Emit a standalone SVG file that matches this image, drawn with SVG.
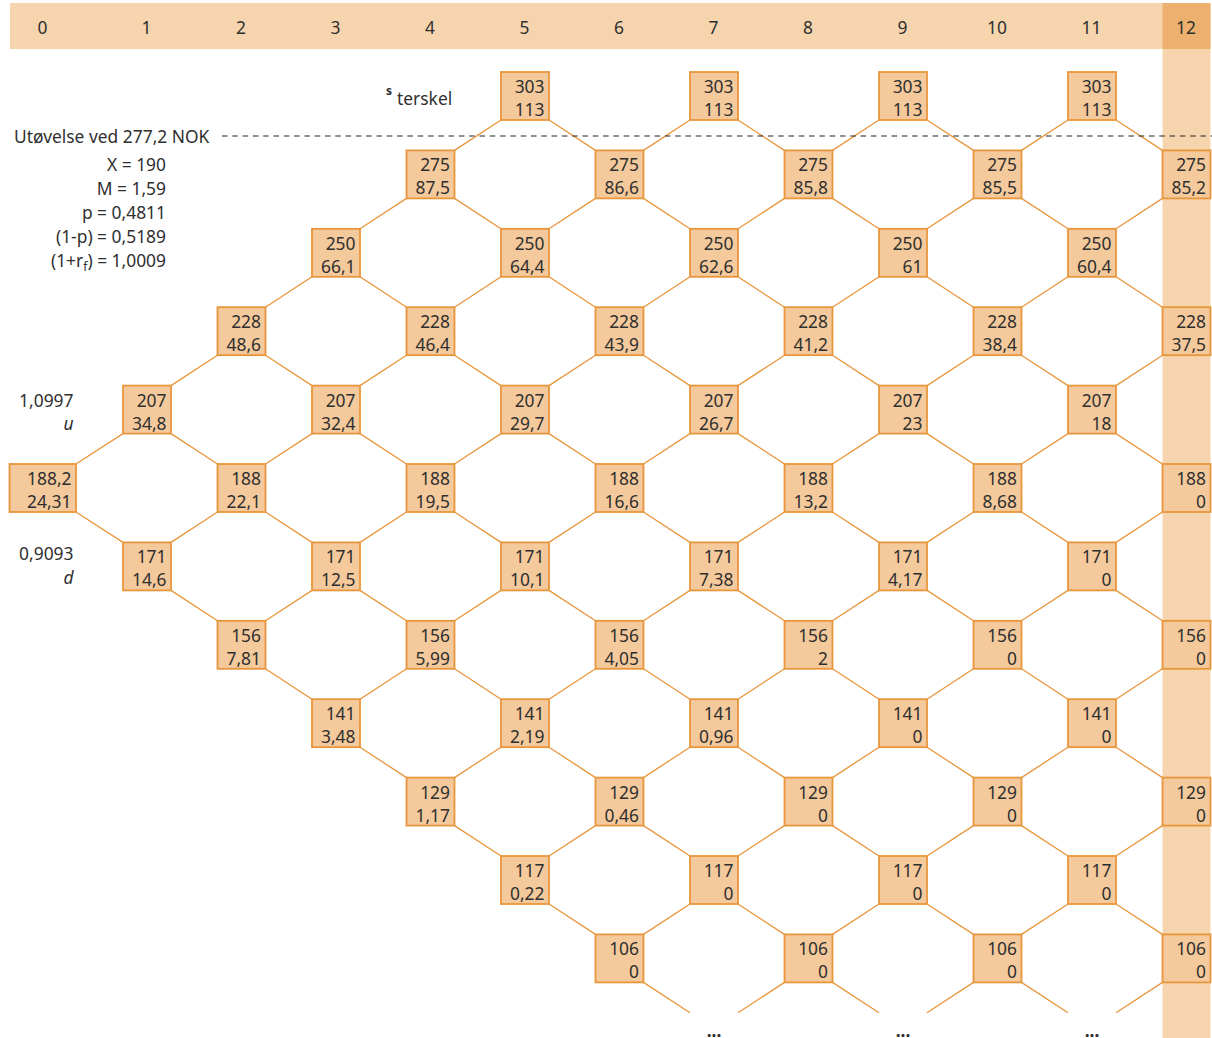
<svg xmlns="http://www.w3.org/2000/svg" width="1212" height="1038" viewBox="0 0 1212 1038">
<style>
text{font-family:"Noto Sans","Open Sans","DejaVu Sans",sans-serif;font-size:17.4px;fill:#2f2f2f}
.b{fill:#f4c99b;stroke:#e8963c;stroke-width:1.8}
.v{text-anchor:end}
.h{text-anchor:middle}
.e{text-anchor:end}
.c{fill:none;stroke:#e8963c;stroke-width:1.3}
.i{font-style:italic}
</style>
<rect x="1162.5" y="49" width="48" height="989" fill="#f6d5ae"/>
<g id="header">
<rect x="10" y="3" width="1200.5" height="46" fill="#f6d5ae"/>
<rect x="1162.5" y="3" width="48" height="46" fill="#eeb06e"/>
<text class="h" x="42.5" y="34">0</text>
<text class="h" x="146.5" y="34">1</text>
<text class="h" x="241" y="34">2</text>
<text class="h" x="335.5" y="34">3</text>
<text class="h" x="430" y="34">4</text>
<text class="h" x="524.5" y="34">5</text>
<text class="h" x="619" y="34">6</text>
<text class="h" x="713.5" y="34">7</text>
<text class="h" x="808" y="34">8</text>
<text class="h" x="902.5" y="34">9</text>
<text class="h" x="997" y="34">10</text>
<text class="h" x="1091.5" y="34">11</text>
<text class="h" x="1186" y="34">12</text>
</g>
<g id="connectors" class="c">
<path d="M76 464l47 -30.4M76 512l47 30.4"/>
<path d="M171 385.6l46.5 -30.4M171 433.6l46.5 30.4M171 542.4l46.5 -30.4M171 590.4l46.5 30.4"/>
<path d="M265.5 307.2l46.5 -30.4M265.5 355.2l46.5 30.4M265.5 464l46.5 -30.4M265.5 512l46.5 30.4M265.5 620.8l46.5 -30.4M265.5 668.8l46.5 30.4"/>
<path d="M360 228.8l46.5 -30.4M360 276.8l46.5 30.4M360 385.6l46.5 -30.4M360 433.6l46.5 30.4M360 542.4l46.5 -30.4M360 590.4l46.5 30.4M360 699.2l46.5 -30.4M360 747.2l46.5 30.4"/>
<path d="M454.5 150.4l46.5 -30.4M454.5 198.4l46.5 30.4M454.5 307.2l46.5 -30.4M454.5 355.2l46.5 30.4M454.5 464l46.5 -30.4M454.5 512l46.5 30.4M454.5 620.8l46.5 -30.4M454.5 668.8l46.5 30.4M454.5 777.6l46.5 -30.4M454.5 825.6l46.5 30.4"/>
<path d="M549 120l46.5 30.4M549 228.8l46.5 -30.4M549 276.8l46.5 30.4M549 385.6l46.5 -30.4M549 433.6l46.5 30.4M549 542.4l46.5 -30.4M549 590.4l46.5 30.4M549 699.2l46.5 -30.4M549 747.2l46.5 30.4M549 856l46.5 -30.4M549 904l46.5 30.4"/>
<path d="M643.5 150.4l46.5 -30.4M643.5 198.4l46.5 30.4M643.5 307.2l46.5 -30.4M643.5 355.2l46.5 30.4M643.5 464l46.5 -30.4M643.5 512l46.5 30.4M643.5 620.8l46.5 -30.4M643.5 668.8l46.5 30.4M643.5 777.6l46.5 -30.4M643.5 825.6l46.5 30.4M643.5 934.4l46.5 -30.4M643.5 982.4l46.5 30.4"/>
<path d="M738 120l46.5 30.4M738 228.8l46.5 -30.4M738 276.8l46.5 30.4M738 385.6l46.5 -30.4M738 433.6l46.5 30.4M738 542.4l46.5 -30.4M738 590.4l46.5 30.4M738 699.2l46.5 -30.4M738 747.2l46.5 30.4M738 856l46.5 -30.4M738 904l46.5 30.4"/>
<path d="M832.5 150.4l46.5 -30.4M832.5 198.4l46.5 30.4M832.5 307.2l46.5 -30.4M832.5 355.2l46.5 30.4M832.5 464l46.5 -30.4M832.5 512l46.5 30.4M832.5 620.8l46.5 -30.4M832.5 668.8l46.5 30.4M832.5 777.6l46.5 -30.4M832.5 825.6l46.5 30.4M832.5 934.4l46.5 -30.4M832.5 982.4l46.5 30.4M784.5 982.4l-46.5 30.4"/>
<path d="M927 120l46.5 30.4M927 228.8l46.5 -30.4M927 276.8l46.5 30.4M927 385.6l46.5 -30.4M927 433.6l46.5 30.4M927 542.4l46.5 -30.4M927 590.4l46.5 30.4M927 699.2l46.5 -30.4M927 747.2l46.5 30.4M927 856l46.5 -30.4M927 904l46.5 30.4"/>
<path d="M1021.5 150.4l46.5 -30.4M1021.5 198.4l46.5 30.4M1021.5 307.2l46.5 -30.4M1021.5 355.2l46.5 30.4M1021.5 464l46.5 -30.4M1021.5 512l46.5 30.4M1021.5 620.8l46.5 -30.4M1021.5 668.8l46.5 30.4M1021.5 777.6l46.5 -30.4M1021.5 825.6l46.5 30.4M1021.5 934.4l46.5 -30.4M1021.5 982.4l46.5 30.4M973.5 982.4l-46.5 30.4"/>
<path d="M1116 120l46.5 30.4M1116 228.8l46.5 -30.4M1116 276.8l46.5 30.4M1116 385.6l46.5 -30.4M1116 433.6l46.5 30.4M1116 542.4l46.5 -30.4M1116 590.4l46.5 30.4M1116 699.2l46.5 -30.4M1116 747.2l46.5 30.4M1116 856l46.5 -30.4M1116 904l46.5 30.4M1162.5 982.4l-46.5 30.4"/>
</g>
<line id="threshold" x1="222" y1="136" x2="1212" y2="136" stroke="#222" stroke-width="1.2" stroke-dasharray="5.5 4.8"/>
<g id="labels">
<text x="386" y="95" style="font-size:12px;font-weight:bold">s</text>
<text x="397" y="104.5">terskel</text>
<text x="14" y="142.5">Utøvelse ved 277,2 NOK</text>
<text class="e" x="166" y="170.5">X = 190</text>
<text class="e" x="166" y="194.5">M = 1,59</text>
<text class="e" x="166" y="218.5">p = 0,4811</text>
<text class="e" x="166" y="242.5">(1-p) = 0,5189</text>
<text class="e" x="166" y="266.5">(1+r<tspan dy="4" style="font-size:12px">f</tspan><tspan dy="-4">) = 1,0009</tspan></text>
<text class="e" x="73.5" y="406.5">1,0997</text>
<text class="e i" x="73.5" y="430">u</text>
<text class="e" x="73.5" y="560">0,9093</text>
<text class="e i" x="73.5" y="583.5">d</text>
<text class="h" x="714" y="1037" style="font-weight:bold">...</text>
<text class="h" x="903" y="1037" style="font-weight:bold">...</text>
<text class="h" x="1092" y="1037" style="font-weight:bold">...</text>
</g>
<g id="n0_5" transform="translate(9.5,464)"><rect class="b" width="66.5" height="48"/><text class="v" x="62" y="21">188,2</text><text class="v" x="62" y="44">24,31</text></g>
<g id="n1_4" transform="translate(123,385.6)"><rect class="b" width="48" height="48"/><text class="v" x="43.5" y="21">207</text><text class="v" x="43.5" y="44">34,8</text></g>
<g id="n1_6" transform="translate(123,542.4)"><rect class="b" width="48" height="48"/><text class="v" x="43.5" y="21">171</text><text class="v" x="43.5" y="44">14,6</text></g>
<g id="n2_3" transform="translate(217.5,307.2)"><rect class="b" width="48" height="48"/><text class="v" x="43.5" y="21">228</text><text class="v" x="43.5" y="44">48,6</text></g>
<g id="n2_5" transform="translate(217.5,464)"><rect class="b" width="48" height="48"/><text class="v" x="43.5" y="21">188</text><text class="v" x="43.5" y="44">22,1</text></g>
<g id="n2_7" transform="translate(217.5,620.8)"><rect class="b" width="48" height="48"/><text class="v" x="43.5" y="21">156</text><text class="v" x="43.5" y="44">7,81</text></g>
<g id="n3_2" transform="translate(312,228.8)"><rect class="b" width="48" height="48"/><text class="v" x="43.5" y="21">250</text><text class="v" x="43.5" y="44">66,1</text></g>
<g id="n3_4" transform="translate(312,385.6)"><rect class="b" width="48" height="48"/><text class="v" x="43.5" y="21">207</text><text class="v" x="43.5" y="44">32,4</text></g>
<g id="n3_6" transform="translate(312,542.4)"><rect class="b" width="48" height="48"/><text class="v" x="43.5" y="21">171</text><text class="v" x="43.5" y="44">12,5</text></g>
<g id="n3_8" transform="translate(312,699.2)"><rect class="b" width="48" height="48"/><text class="v" x="43.5" y="21">141</text><text class="v" x="43.5" y="44">3,48</text></g>
<g id="n4_1" transform="translate(406.5,150.4)"><rect class="b" width="48" height="48"/><text class="v" x="43.5" y="21">275</text><text class="v" x="43.5" y="44">87,5</text></g>
<g id="n4_3" transform="translate(406.5,307.2)"><rect class="b" width="48" height="48"/><text class="v" x="43.5" y="21">228</text><text class="v" x="43.5" y="44">46,4</text></g>
<g id="n4_5" transform="translate(406.5,464)"><rect class="b" width="48" height="48"/><text class="v" x="43.5" y="21">188</text><text class="v" x="43.5" y="44">19,5</text></g>
<g id="n4_7" transform="translate(406.5,620.8)"><rect class="b" width="48" height="48"/><text class="v" x="43.5" y="21">156</text><text class="v" x="43.5" y="44">5,99</text></g>
<g id="n4_9" transform="translate(406.5,777.6)"><rect class="b" width="48" height="48"/><text class="v" x="43.5" y="21">129</text><text class="v" x="43.5" y="44">1,17</text></g>
<g id="n5_0" transform="translate(501,72)"><rect class="b" width="48" height="48"/><text class="v" x="43.5" y="21">303</text><text class="v" x="43.5" y="44">113</text></g>
<g id="n5_2" transform="translate(501,228.8)"><rect class="b" width="48" height="48"/><text class="v" x="43.5" y="21">250</text><text class="v" x="43.5" y="44">64,4</text></g>
<g id="n5_4" transform="translate(501,385.6)"><rect class="b" width="48" height="48"/><text class="v" x="43.5" y="21">207</text><text class="v" x="43.5" y="44">29,7</text></g>
<g id="n5_6" transform="translate(501,542.4)"><rect class="b" width="48" height="48"/><text class="v" x="43.5" y="21">171</text><text class="v" x="43.5" y="44">10,1</text></g>
<g id="n5_8" transform="translate(501,699.2)"><rect class="b" width="48" height="48"/><text class="v" x="43.5" y="21">141</text><text class="v" x="43.5" y="44">2,19</text></g>
<g id="n5_10" transform="translate(501,856)"><rect class="b" width="48" height="48"/><text class="v" x="43.5" y="21">117</text><text class="v" x="43.5" y="44">0,22</text></g>
<g id="n6_1" transform="translate(595.5,150.4)"><rect class="b" width="48" height="48"/><text class="v" x="43.5" y="21">275</text><text class="v" x="43.5" y="44">86,6</text></g>
<g id="n6_3" transform="translate(595.5,307.2)"><rect class="b" width="48" height="48"/><text class="v" x="43.5" y="21">228</text><text class="v" x="43.5" y="44">43,9</text></g>
<g id="n6_5" transform="translate(595.5,464)"><rect class="b" width="48" height="48"/><text class="v" x="43.5" y="21">188</text><text class="v" x="43.5" y="44">16,6</text></g>
<g id="n6_7" transform="translate(595.5,620.8)"><rect class="b" width="48" height="48"/><text class="v" x="43.5" y="21">156</text><text class="v" x="43.5" y="44">4,05</text></g>
<g id="n6_9" transform="translate(595.5,777.6)"><rect class="b" width="48" height="48"/><text class="v" x="43.5" y="21">129</text><text class="v" x="43.5" y="44">0,46</text></g>
<g id="n6_11" transform="translate(595.5,934.4)"><rect class="b" width="48" height="48"/><text class="v" x="43.5" y="21">106</text><text class="v" x="43.5" y="44">0</text></g>
<g id="n7_0" transform="translate(690,72)"><rect class="b" width="48" height="48"/><text class="v" x="43.5" y="21">303</text><text class="v" x="43.5" y="44">113</text></g>
<g id="n7_2" transform="translate(690,228.8)"><rect class="b" width="48" height="48"/><text class="v" x="43.5" y="21">250</text><text class="v" x="43.5" y="44">62,6</text></g>
<g id="n7_4" transform="translate(690,385.6)"><rect class="b" width="48" height="48"/><text class="v" x="43.5" y="21">207</text><text class="v" x="43.5" y="44">26,7</text></g>
<g id="n7_6" transform="translate(690,542.4)"><rect class="b" width="48" height="48"/><text class="v" x="43.5" y="21">171</text><text class="v" x="43.5" y="44">7,38</text></g>
<g id="n7_8" transform="translate(690,699.2)"><rect class="b" width="48" height="48"/><text class="v" x="43.5" y="21">141</text><text class="v" x="43.5" y="44">0,96</text></g>
<g id="n7_10" transform="translate(690,856)"><rect class="b" width="48" height="48"/><text class="v" x="43.5" y="21">117</text><text class="v" x="43.5" y="44">0</text></g>
<g id="n8_1" transform="translate(784.5,150.4)"><rect class="b" width="48" height="48"/><text class="v" x="43.5" y="21">275</text><text class="v" x="43.5" y="44">85,8</text></g>
<g id="n8_3" transform="translate(784.5,307.2)"><rect class="b" width="48" height="48"/><text class="v" x="43.5" y="21">228</text><text class="v" x="43.5" y="44">41,2</text></g>
<g id="n8_5" transform="translate(784.5,464)"><rect class="b" width="48" height="48"/><text class="v" x="43.5" y="21">188</text><text class="v" x="43.5" y="44">13,2</text></g>
<g id="n8_7" transform="translate(784.5,620.8)"><rect class="b" width="48" height="48"/><text class="v" x="43.5" y="21">156</text><text class="v" x="43.5" y="44">2</text></g>
<g id="n8_9" transform="translate(784.5,777.6)"><rect class="b" width="48" height="48"/><text class="v" x="43.5" y="21">129</text><text class="v" x="43.5" y="44">0</text></g>
<g id="n8_11" transform="translate(784.5,934.4)"><rect class="b" width="48" height="48"/><text class="v" x="43.5" y="21">106</text><text class="v" x="43.5" y="44">0</text></g>
<g id="n9_0" transform="translate(879,72)"><rect class="b" width="48" height="48"/><text class="v" x="43.5" y="21">303</text><text class="v" x="43.5" y="44">113</text></g>
<g id="n9_2" transform="translate(879,228.8)"><rect class="b" width="48" height="48"/><text class="v" x="43.5" y="21">250</text><text class="v" x="43.5" y="44">61</text></g>
<g id="n9_4" transform="translate(879,385.6)"><rect class="b" width="48" height="48"/><text class="v" x="43.5" y="21">207</text><text class="v" x="43.5" y="44">23</text></g>
<g id="n9_6" transform="translate(879,542.4)"><rect class="b" width="48" height="48"/><text class="v" x="43.5" y="21">171</text><text class="v" x="43.5" y="44">4,17</text></g>
<g id="n9_8" transform="translate(879,699.2)"><rect class="b" width="48" height="48"/><text class="v" x="43.5" y="21">141</text><text class="v" x="43.5" y="44">0</text></g>
<g id="n9_10" transform="translate(879,856)"><rect class="b" width="48" height="48"/><text class="v" x="43.5" y="21">117</text><text class="v" x="43.5" y="44">0</text></g>
<g id="n10_1" transform="translate(973.5,150.4)"><rect class="b" width="48" height="48"/><text class="v" x="43.5" y="21">275</text><text class="v" x="43.5" y="44">85,5</text></g>
<g id="n10_3" transform="translate(973.5,307.2)"><rect class="b" width="48" height="48"/><text class="v" x="43.5" y="21">228</text><text class="v" x="43.5" y="44">38,4</text></g>
<g id="n10_5" transform="translate(973.5,464)"><rect class="b" width="48" height="48"/><text class="v" x="43.5" y="21">188</text><text class="v" x="43.5" y="44">8,68</text></g>
<g id="n10_7" transform="translate(973.5,620.8)"><rect class="b" width="48" height="48"/><text class="v" x="43.5" y="21">156</text><text class="v" x="43.5" y="44">0</text></g>
<g id="n10_9" transform="translate(973.5,777.6)"><rect class="b" width="48" height="48"/><text class="v" x="43.5" y="21">129</text><text class="v" x="43.5" y="44">0</text></g>
<g id="n10_11" transform="translate(973.5,934.4)"><rect class="b" width="48" height="48"/><text class="v" x="43.5" y="21">106</text><text class="v" x="43.5" y="44">0</text></g>
<g id="n11_0" transform="translate(1068,72)"><rect class="b" width="48" height="48"/><text class="v" x="43.5" y="21">303</text><text class="v" x="43.5" y="44">113</text></g>
<g id="n11_2" transform="translate(1068,228.8)"><rect class="b" width="48" height="48"/><text class="v" x="43.5" y="21">250</text><text class="v" x="43.5" y="44">60,4</text></g>
<g id="n11_4" transform="translate(1068,385.6)"><rect class="b" width="48" height="48"/><text class="v" x="43.5" y="21">207</text><text class="v" x="43.5" y="44">18</text></g>
<g id="n11_6" transform="translate(1068,542.4)"><rect class="b" width="48" height="48"/><text class="v" x="43.5" y="21">171</text><text class="v" x="43.5" y="44">0</text></g>
<g id="n11_8" transform="translate(1068,699.2)"><rect class="b" width="48" height="48"/><text class="v" x="43.5" y="21">141</text><text class="v" x="43.5" y="44">0</text></g>
<g id="n11_10" transform="translate(1068,856)"><rect class="b" width="48" height="48"/><text class="v" x="43.5" y="21">117</text><text class="v" x="43.5" y="44">0</text></g>
<g id="n12_1" transform="translate(1162.5,150.4)"><rect class="b" width="48" height="48"/><text class="v" x="43.5" y="21">275</text><text class="v" x="43.5" y="44">85,2</text></g>
<g id="n12_3" transform="translate(1162.5,307.2)"><rect class="b" width="48" height="48"/><text class="v" x="43.5" y="21">228</text><text class="v" x="43.5" y="44">37,5</text></g>
<g id="n12_5" transform="translate(1162.5,464)"><rect class="b" width="48" height="48"/><text class="v" x="43.5" y="21">188</text><text class="v" x="43.5" y="44">0</text></g>
<g id="n12_7" transform="translate(1162.5,620.8)"><rect class="b" width="48" height="48"/><text class="v" x="43.5" y="21">156</text><text class="v" x="43.5" y="44">0</text></g>
<g id="n12_9" transform="translate(1162.5,777.6)"><rect class="b" width="48" height="48"/><text class="v" x="43.5" y="21">129</text><text class="v" x="43.5" y="44">0</text></g>
<g id="n12_11" transform="translate(1162.5,934.4)"><rect class="b" width="48" height="48"/><text class="v" x="43.5" y="21">106</text><text class="v" x="43.5" y="44">0</text></g>
</svg>
